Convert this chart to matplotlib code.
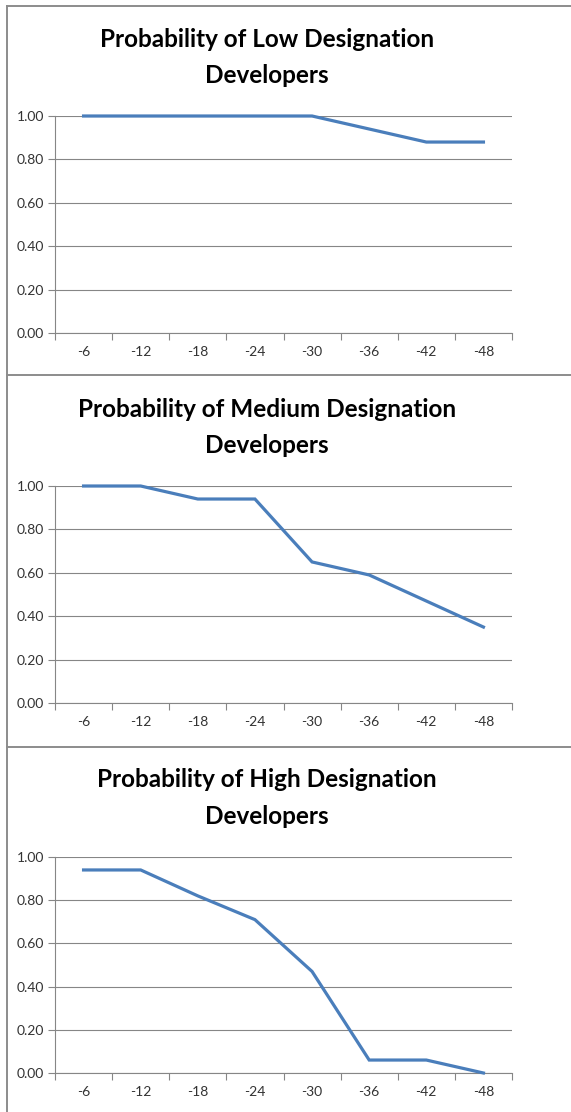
import matplotlib
matplotlib.use("Agg")
import matplotlib.pyplot as plt
from matplotlib.lines import Line2D

months = ["-6", "-12", "-18", "-24", "-30", "-36", "-42", "-48"]
low = [1.00, 1.00, 1.00, 1.00, 1.00, 0.94, 0.88, 0.88]
medium = [1.00, 1.00, 0.94, 0.94, 0.65, 0.59, 0.47, 0.35]
high = [0.94, 0.94, 0.82, 0.71, 0.47, 0.06, 0.06, 0.00]
titles = ["Probability of Low Designation\nDevelopers",
          "Probability of Medium Designation\nDevelopers",
          "Probability of High Designation\nDevelopers"]
series = [low, medium, high]
yticks = [0.0, 0.2, 0.4, 0.6, 0.8, 1.0]

W, H = 571, 1112
fig = plt.figure(figsize=(W / 100, H / 100), dpi=100)
plt.rcParams['font.family'] = ['Lato', 'DejaVu Sans']

def fx(px):
    return px / W

def fy(py):
    return 1 - py / H

# panel geometry in pixels: (panel top, plot top, plot bottom, title center)
panels = [(6, 116, 333, 57.5), (374.5, 486, 703, 427.5), (746.5, 857, 1073, 798)]
plot_left, plot_right = 55, 512
border = '#8c8c8c'

fig.add_artist(Line2D([fx(7), fx(7)], [fy(6), fy(H + 5)], color=border, lw=1.4, transform=fig.transFigure))
fig.add_artist(Line2D([fx(7), fx(W + 5)], [fy(6), fy(6)], color=border, lw=1.4, transform=fig.transFigure))
for p in panels[1:]:
    fig.add_artist(Line2D([fx(7), fx(W + 5)], [fy(p[0]), fy(p[0])], color=border, lw=1.4, transform=fig.transFigure))

for (ptop, ytop, ybot, tcy), vals, title in zip(panels, series, titles):
    ax = fig.add_axes([fx(plot_left), fy(ybot), fx(plot_right) - fx(plot_left), (ybot - ytop) / H])
    x = list(range(len(months)))
    ax.plot(x, vals, color='#4a7ebb', lw=2.3, solid_joinstyle='miter', clip_on=False, zorder=3)
    ax.set_xlim(-0.5, len(months) - 0.5)
    ax.set_ylim(0, 1)
    ax.set_yticks(yticks)
    ax.set_yticklabels([f"{v:.2f}" for v in yticks])
    ax.set_xticks(x)
    ax.set_xticklabels(months)
    ax.set_xticks([i - 0.5 for i in range(len(months) + 1)], minor=True)
    ax.tick_params(axis='x', which='major', length=0, pad=9.5, labelsize=10, labelcolor='#333333')
    ax.tick_params(axis='x', which='minor', length=5, width=0.8, color='#868686', direction='out')
    ax.tick_params(axis='y', length=5, width=0.8, color='#868686', pad=3, labelsize=10, labelcolor='#333333')
    ax.grid(axis='y', color='#868686', lw=0.8)
    ax.set_axisbelow(True)
    for s in ['top', 'right']:
        ax.spines[s].set_visible(False)
    for s in ['left', 'bottom']:
        ax.spines[s].set_color('#868686')
        ax.spines[s].set_linewidth(0.8)
    fig.text(fx(267), fy(tcy), title, ha='center', va='center', fontsize=17.5,
             fontweight='bold', linespacing=1.7, color='black')

fig.savefig('out.png', dpi=100)
